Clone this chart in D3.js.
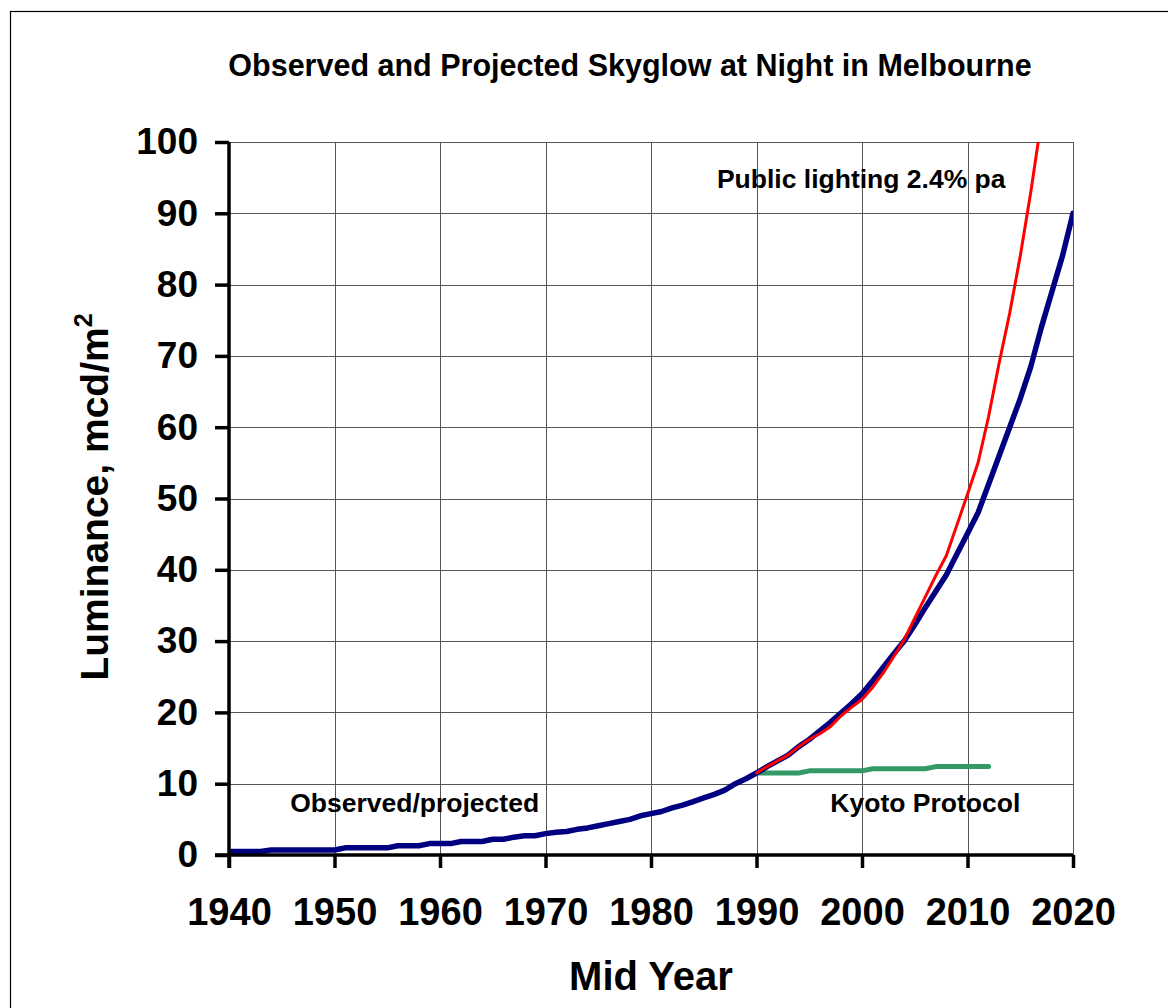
<!DOCTYPE html>
<html>
<head>
<meta charset="utf-8">
<script src="https://cdn.jsdelivr.net/npm/d3@7"></script>
<style>
  body { margin: 0; background: #fff; }
  text { font-family: Arial, "Liberation Sans", sans-serif; font-weight: bold; fill: #000; }
</style>
</head>
<body>
<div id="chart"></div>
<script>
// Observed/projected skyglow (mcd/m2), one value per mid year 1940..2020
const observedYears = d3.range(1940, 2021);
const observedValues = [
  0.5, 0.5, 0.5, 0.5, 0.7, 0.7, 0.7, 0.7, 0.7, 0.7,
  0.7, 1.0, 1.0, 1.0, 1.0, 1.0, 1.3, 1.3, 1.3, 1.6,
  1.6, 1.6, 1.9, 1.9, 1.9, 2.2, 2.2, 2.5, 2.7, 2.7,
  3.0, 3.2, 3.3, 3.6, 3.8, 4.1, 4.4, 4.7, 5.0, 5.5,
  5.8, 6.1, 6.6, 7.0, 7.5, 8.0, 8.5, 9.1, 10.0, 10.7,
  11.5, 12.4, 13.2, 14.0, 15.2, 16.2, 17.4, 18.6, 19.9, 21.2,
  22.6, 24.4, 26.3, 28.2, 30.0, 32.3, 34.7, 37.0, 39.3, 42.2,
  45.1, 48.0, 52.0, 56.0, 60.0, 64.0, 68.5, 74.0, 79.0, 84.0,
  90.0
];

// Public lighting growing 2.4% pa, 1990..2017 (runs off the top of the chart)
const publicYears = d3.range(1990, 2018);
const publicValues = [
  11.5, 12.4, 13.2, 14.0, 15.2, 16.2, 17.0, 18.0, 19.5, 20.7,
  21.8, 23.5, 25.5, 27.8, 30.2, 33.2, 36.2, 39.2, 42.0, 46.3,
  50.6, 55.0, 61.5, 69.0, 76.0, 84.0, 93.0, 103.0
];

// Kyoto Protocol scenario, 1990..2012
const kyotoYears = d3.range(1990, 2013);
const kyotoValues = [
  11.5, 11.5, 11.5, 11.5, 11.5, 11.8, 11.8, 11.8, 11.8, 11.8,
  11.8, 12.1, 12.1, 12.1, 12.1, 12.1, 12.1, 12.4, 12.4, 12.4,
  12.4, 12.4, 12.4
];

const xTicks = d3.range(1940, 2021, 10);
const yTicks = d3.range(0, 101, 10);

const width = 1168;
const height = 1008;
const plot = { left: 229, right: 1073, top: 142, bottom: 855 };

const svg = d3.select('#chart')
  .append('svg')
  .attr('width', width)
  .attr('height', height);

// Outer chart frame
svg.append('rect')
  .attr('x', 10.5)
  .attr('y', 11.5)
  .attr('width', 1300)
  .attr('height', 1200)
  .attr('fill', 'none')
  .attr('stroke', '#000')
  .attr('stroke-width', 1.2);

const x = d3.scaleLinear().domain([1940, 2020]).range([plot.left, plot.right]);
const y = d3.scaleLinear().domain([0, 100]).range([plot.bottom, plot.top]);

svg.append('defs').append('clipPath')
  .attr('id', 'plot-clip')
  .append('rect')
  .attr('x', plot.left)
  .attr('y', plot.top)
  .attr('width', plot.right - plot.left)
  .attr('height', plot.bottom - plot.top);

// Grid lines
const grid = svg.append('g').attr('class', 'grid');
grid.selectAll('line.v')
  .data(xTicks.slice(1))
  .enter()
  .append('line')
  .attr('x1', d => Math.round(x(d)) + 0.5)
  .attr('x2', d => Math.round(x(d)) + 0.5)
  .attr('y1', plot.top)
  .attr('y2', plot.bottom)
  .attr('stroke', '#555')
  .attr('stroke-width', 1);

grid.selectAll('line.h')
  .data(yTicks.slice(1))
  .enter()
  .append('line')
  .attr('x1', plot.left)
  .attr('x2', plot.right)
  .attr('y1', d => Math.round(y(d)) + 0.5)
  .attr('y2', d => Math.round(y(d)) + 0.5)
  .attr('stroke', '#555')
  .attr('stroke-width', 1);

// Series
const line = (years, values) => d3.line()
  .x((d, i) => x(years[i]))
  .y(d => y(d))(values);

const series = svg.append('g').attr('clip-path', 'url(#plot-clip)');

series.append('path')
  .attr('d', line(kyotoYears, kyotoValues))
  .attr('fill', 'none')
  .attr('stroke', '#339966')
  .attr('stroke-width', 5)
  .attr('stroke-linecap', 'round')
  .attr('stroke-linejoin', 'round');

series.append('path')
  .attr('d', line(observedYears, observedValues))
  .attr('fill', 'none')
  .attr('stroke', '#000080')
  .attr('stroke-width', 5.5)
  .attr('stroke-linecap', 'round')
  .attr('stroke-linejoin', 'round');

series.append('path')
  .attr('d', line(publicYears, publicValues))
  .attr('fill', 'none')
  .attr('stroke', '#ff0000')
  .attr('stroke-width', 3)
  .attr('stroke-linecap', 'round')
  .attr('stroke-linejoin', 'round');

// Axes
const xAxis = svg.append('g')
  .attr('transform', `translate(0,${plot.bottom})`)
  .call(d3.axisBottom(x).tickValues(xTicks).tickFormat(d3.format('d')).tickSize(13).tickPadding(30));
xAxis.select('.domain')
  .attr('d', `M${plot.left - 14},0H${plot.right}`)
  .attr('stroke-width', 3.5);
xAxis.selectAll('.tick line').attr('stroke-width', 3.5);
xAxis.selectAll('.tick text')
  .attr('font-size', 38)
  .attr('font-family', 'Arial, "Liberation Sans", sans-serif')
  .attr('font-weight', 'bold')
  .attr('fill', '#000');

const yAxis = svg.append('g')
  .attr('transform', `translate(${plot.left},0)`)
  .call(d3.axisLeft(y).tickValues(yTicks).tickSize(14).tickPadding(17));
yAxis.select('.domain')
  .attr('d', `M0,${plot.top}V${plot.bottom + 13}`)
  .attr('stroke-width', 3.5);
yAxis.selectAll('.tick line').attr('stroke-width', 3.5);
yAxis.selectAll('.tick text')
  .attr('font-size', 37)
  .attr('font-family', 'Arial, "Liberation Sans", sans-serif')
  .attr('font-weight', 'bold')
  .attr('fill', '#000');

// Titles
svg.append('text')
  .attr('x', 630)
  .attr('y', 76)
  .attr('text-anchor', 'middle')
  .attr('font-size', 30.5)
  .text('Observed and Projected Skyglow at Night in Melbourne');

svg.append('text')
  .attr('x', 651)
  .attr('y', 990)
  .attr('text-anchor', 'middle')
  .attr('font-size', 40)
  .text('Mid Year');

const yTitle = svg.append('text')
  .attr('transform', `translate(108,497) rotate(-90)`)
  .attr('text-anchor', 'middle')
  .attr('font-size', 39);
yTitle.append('tspan').text('Luminance, mcd/m');
yTitle.append('tspan').attr('font-size', 25).attr('dy', -16).text('2');

// Series annotations
const notes = [
  { label: 'Public lighting 2.4% pa', year: 1986.25, value: 93.5 },
  { label: 'Observed/projected', year: 1945.8, value: 6.0 },
  { label: 'Kyoto Protocol', year: 1997.0, value: 6.0 }
];
svg.append('g').selectAll('text')
  .data(notes)
  .enter()
  .append('text')
  .attr('x', d => x(d.year))
  .attr('y', d => y(d.value))
  .attr('font-size', 26.5)
  .text(d => d.label);
</script>
</body>
</html>
